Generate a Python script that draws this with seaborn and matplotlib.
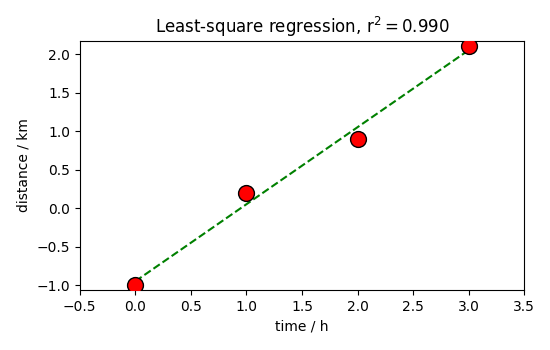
import numpy as np
import pandas as pd
import matplotlib
matplotlib.use("Agg")
import matplotlib.pyplot as plt
import seaborn as sns

# Observations
time_h = [0.0, 1.0, 2.0, 3.0]
distance_km = [-1.0, 0.2, 0.9, 2.1]

x = np.array(time_h)
y = np.array(distance_km)

# Least-squares fit
slope, intercept = np.polyfit(x, y, 1)
fit = slope * x + intercept
ss_res = np.sum((y - fit) ** 2)
ss_tot = np.sum((y - y.mean()) ** 2)
r2 = 1 - ss_res / ss_tot

df = pd.DataFrame({"time": x, "distance": y, "fit": fit})

fig, ax = plt.subplots(figsize=(5.5, 3.5), dpi=100)
fig.subplots_adjust(left=0.145, right=0.953, top=0.883, bottom=0.171)

sns.lineplot(data=df, x="time", y="fit", ax=ax, color="green",
             linestyle="--", linewidth=1.5, zorder=2)
sns.scatterplot(data=df, x="time", y="distance", ax=ax, color="red",
                edgecolor="black", linewidth=1.0, s=130, zorder=3)

ax.set_xlim(-0.5, 3.5)
ax.set_ylim(-1.065, 2.17)
ax.set_xlabel("time / h")
ax.set_ylabel("distance / km")
ax.set_title(r"Least-square regression, $\mathregular{r^2 = %.3f}$" % r2, fontsize=12)

fig.savefig("out.png", dpi=100)
